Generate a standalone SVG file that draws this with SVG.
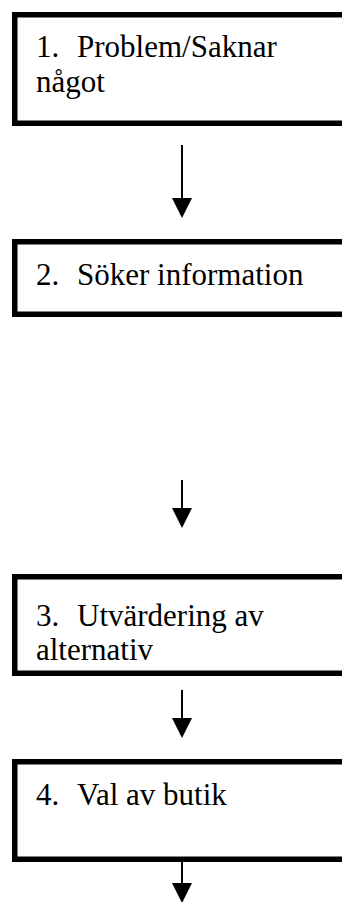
<svg xmlns="http://www.w3.org/2000/svg" width="342" height="902" viewBox="0 0 342 902">
<style>
.box{fill:#fff;stroke:#000;stroke-width:5.5}
.t{font-family:'Liberation Serif','Times New Roman',Times,serif;font-size:31px;fill:#000}
.c{stroke:#000;stroke-width:2;fill:none;marker-end:url(#ah)}
</style>
<defs>
<marker id="ah" markerUnits="userSpaceOnUse" markerWidth="20" markerHeight="20" refX="0" refY="10" orient="auto" overflow="visible">
<path d="M0,0 L20,10 L0,20 Z" fill="#000"/>
</marker>
</defs>
<rect width="342" height="902" fill="#fff"/>
<g id="connectors">
<line class="c" x1="182" y1="145" x2="182" y2="198"/>
<line class="c" x1="182" y1="480" x2="182" y2="508"/>
<line class="c" x1="182" y1="690" x2="182" y2="718"/>
<line class="c" x1="182" y1="862" x2="182" y2="883"/>
</g>
<g id="node1" font-family="Liberation Serif, serif">
<rect class="box" x="14.75" y="14.75" width="360" height="108.5"/>
<text class="t" x="36" y="56.5">1.</text>
<text class="t" x="77" y="56.5">Problem/Saknar</text>
<text class="t" x="36" y="92">något</text>
</g>
<g id="node2" font-family="Liberation Serif, serif">
<rect class="box" x="14.75" y="241.75" width="360" height="72.5"/>
<text class="t" x="36" y="285">2.</text>
<text class="t" x="77" y="285">Söker information</text>
</g>
<g id="node3" font-family="Liberation Serif, serif">
<rect class="box" x="14.75" y="576.75" width="360" height="96.5"/>
<text class="t" x="36" y="625.5">3.</text>
<text class="t" x="77" y="625.5">Utvärdering av</text>
<text class="t" x="36" y="659.5">alternativ</text>
</g>
<g id="node4" font-family="Liberation Serif, serif">
<rect class="box" x="14.75" y="761.75" width="360" height="97.5"/>
<text class="t" x="36" y="805">4.</text>
<text class="t" x="77" y="805">Val av butik</text>
</g>
</svg>
